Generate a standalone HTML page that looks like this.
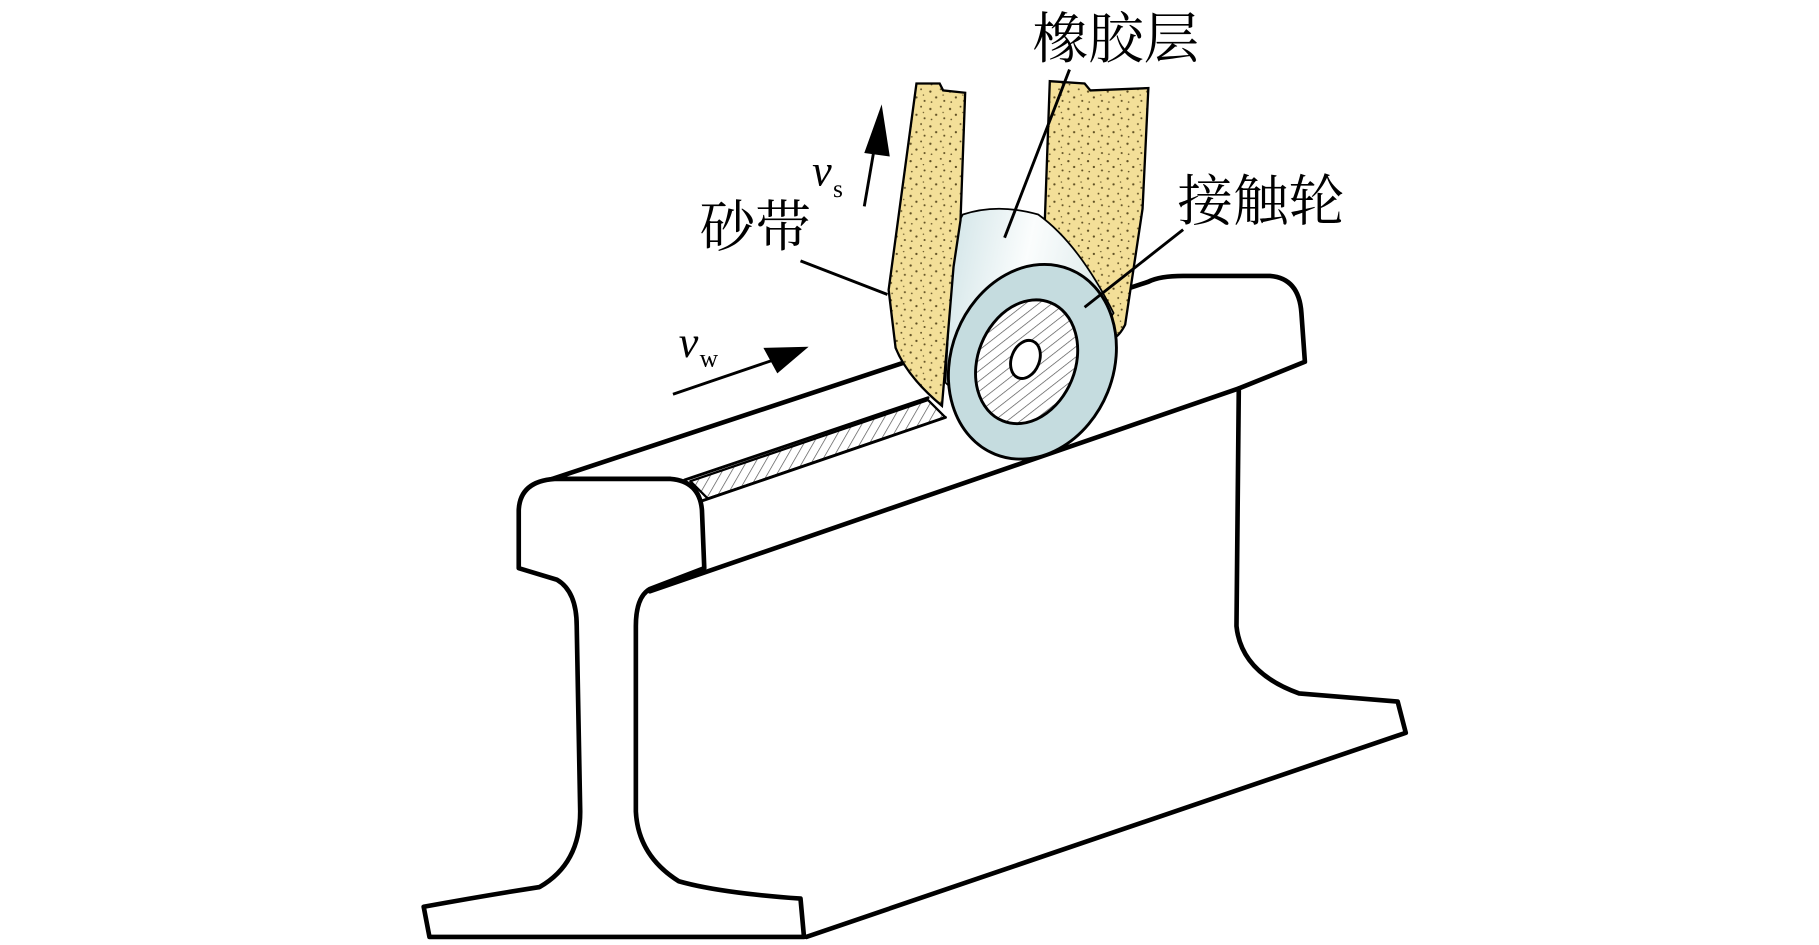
<!DOCTYPE html>
<html><head><meta charset="utf-8"><style>
html,body{margin:0;padding:0;background:#fff;width:1819px;height:945px;overflow:hidden}
svg{display:block}
text{font-family:"Liberation Serif","Noto Serif CJK SC","Noto Sans CJK SC",serif;fill:#000}
</style></head><body>
<svg width="1819" height="945" viewBox="0 0 1568 815" xmlns="http://www.w3.org/2000/svg">
<defs>
<pattern id="h" width="7" height="7" patternUnits="userSpaceOnUse" patternTransform="rotate(30)">
<rect width="7" height="7" fill="#fff"/><line x1="0" y1="0" x2="0" y2="7" stroke="#555" stroke-width="1.2"/></pattern>
<pattern id="sand" width="17" height="15" patternUnits="userSpaceOnUse">
<rect width="17" height="15" fill="#f3df98"/>
<circle cx="3" cy="4" r="1" fill="#5e4e22"/><circle cx="12" cy="2" r="0.8" fill="#5e4e22"/>
<circle cx="8" cy="9" r="1" fill="#5e4e22"/><circle cx="15" cy="12" r="0.9" fill="#5e4e22"/>
<circle cx="4" cy="13" r="0.7" fill="#5e4e22"/><circle cx="14" cy="7" r="0.6" fill="#5e4e22"/>
</pattern>
<linearGradient id="cyl" x1="0" y1="0" x2="1" y2="0.3">
<stop offset="0" stop-color="#cfe3e6"/><stop offset="0.5" stop-color="#fbfdfd"/><stop offset="1" stop-color="#dbe9ea"/></linearGradient>
</defs>
<g fill="none" stroke="#000" stroke-width="4" stroke-linejoin="round" stroke-linecap="round">
<path d="M470,415 L990,243 Q1000,238 1020,238 L1095,238 Q1120,240 1122,270 L1125,312 L1068,335 L1066,540 Q1070,580 1120,598 L1205,605 L1212,632 L695,808" fill="#fff"/>
<path d="M560,510 L1068,335"/>
<path d="M595,415 L800,345 L815,360 L610,430 Z" fill="url(#h)" stroke-width="2"/>
<path d="M590,414 L800,343" stroke-width="2.5"/>
<path d="M605,432 L815,360" stroke-width="2.5"/>
<path d="M447,490 L447,440 Q448,415 478,413 L578,413 Q603,415 605,440 L607,490 L560,508 Q548,515 548,540 L548,700 Q550,738 585,760 Q620,770 690,775 L693,808 L370,808 L365,782 Q420,772 465,765 Q500,745 500,700 L497,540 Q497,510 480,500 Z" fill="#fff"/>
</g>
<path d="M905,70 L935,72 L940,78 L990,76 L985,180 L970,280 Q960,300 945,290 L900,210 L905,70 Z" fill="url(#sand)" stroke="#000" stroke-width="2"/>
<path d="M830,185 Q860,175 895,185 Q930,210 960,270 L880,390 L815,330 L822,200 Z" fill="url(#cyl)" stroke="#000" stroke-width="1.5"/>
<path d="M790,72 L810,72 L813,78 L832,80 L828,190 L822,230 L812,350 Q782,325 772,300 L766,250 Z" fill="url(#sand)" stroke="#000" stroke-width="2"/>
<ellipse cx="890" cy="312" rx="70" ry="86" transform="rotate(22 890 312)" fill="#c5dcdf" stroke="#000" stroke-width="2.5"/>
<ellipse cx="885" cy="312" rx="42" ry="55" transform="rotate(22 885 312)" fill="url(#h)" stroke="#000" stroke-width="2.5"/>
<ellipse cx="884" cy="310" rx="12" ry="17" transform="rotate(22 884 310)" fill="#fff" stroke="#000" stroke-width="2.5"/>
<g stroke="#000" stroke-width="2.5">
<line x1="922" y1="60" x2="866" y2="205"/>
<line x1="1020" y1="198" x2="935" y2="265"/>
<line x1="690" y1="225" x2="765" y2="254"/>
<line x1="745" y1="178" x2="755" y2="120"/>
<line x1="580" y1="340" x2="668" y2="310"/>
</g>
<polygon points="760,90 767,135 745,132" fill="#000"/>
<polygon points="697,299 658,300 670,322" fill="#000"/>
<text x="890" y="50" font-size="48">橡胶层</text>
<text x="1015" y="190" font-size="48">接触轮</text>
<text x="603" y="212" font-size="48">砂带</text>
<text x="700" y="160" font-size="38" font-style="italic">v</text>
<text x="718" y="170" font-size="22">s</text>
<text x="585" y="308" font-size="38" font-style="italic">v</text>
<text x="603" y="316" font-size="22">w</text>
</svg>
</body></html>
